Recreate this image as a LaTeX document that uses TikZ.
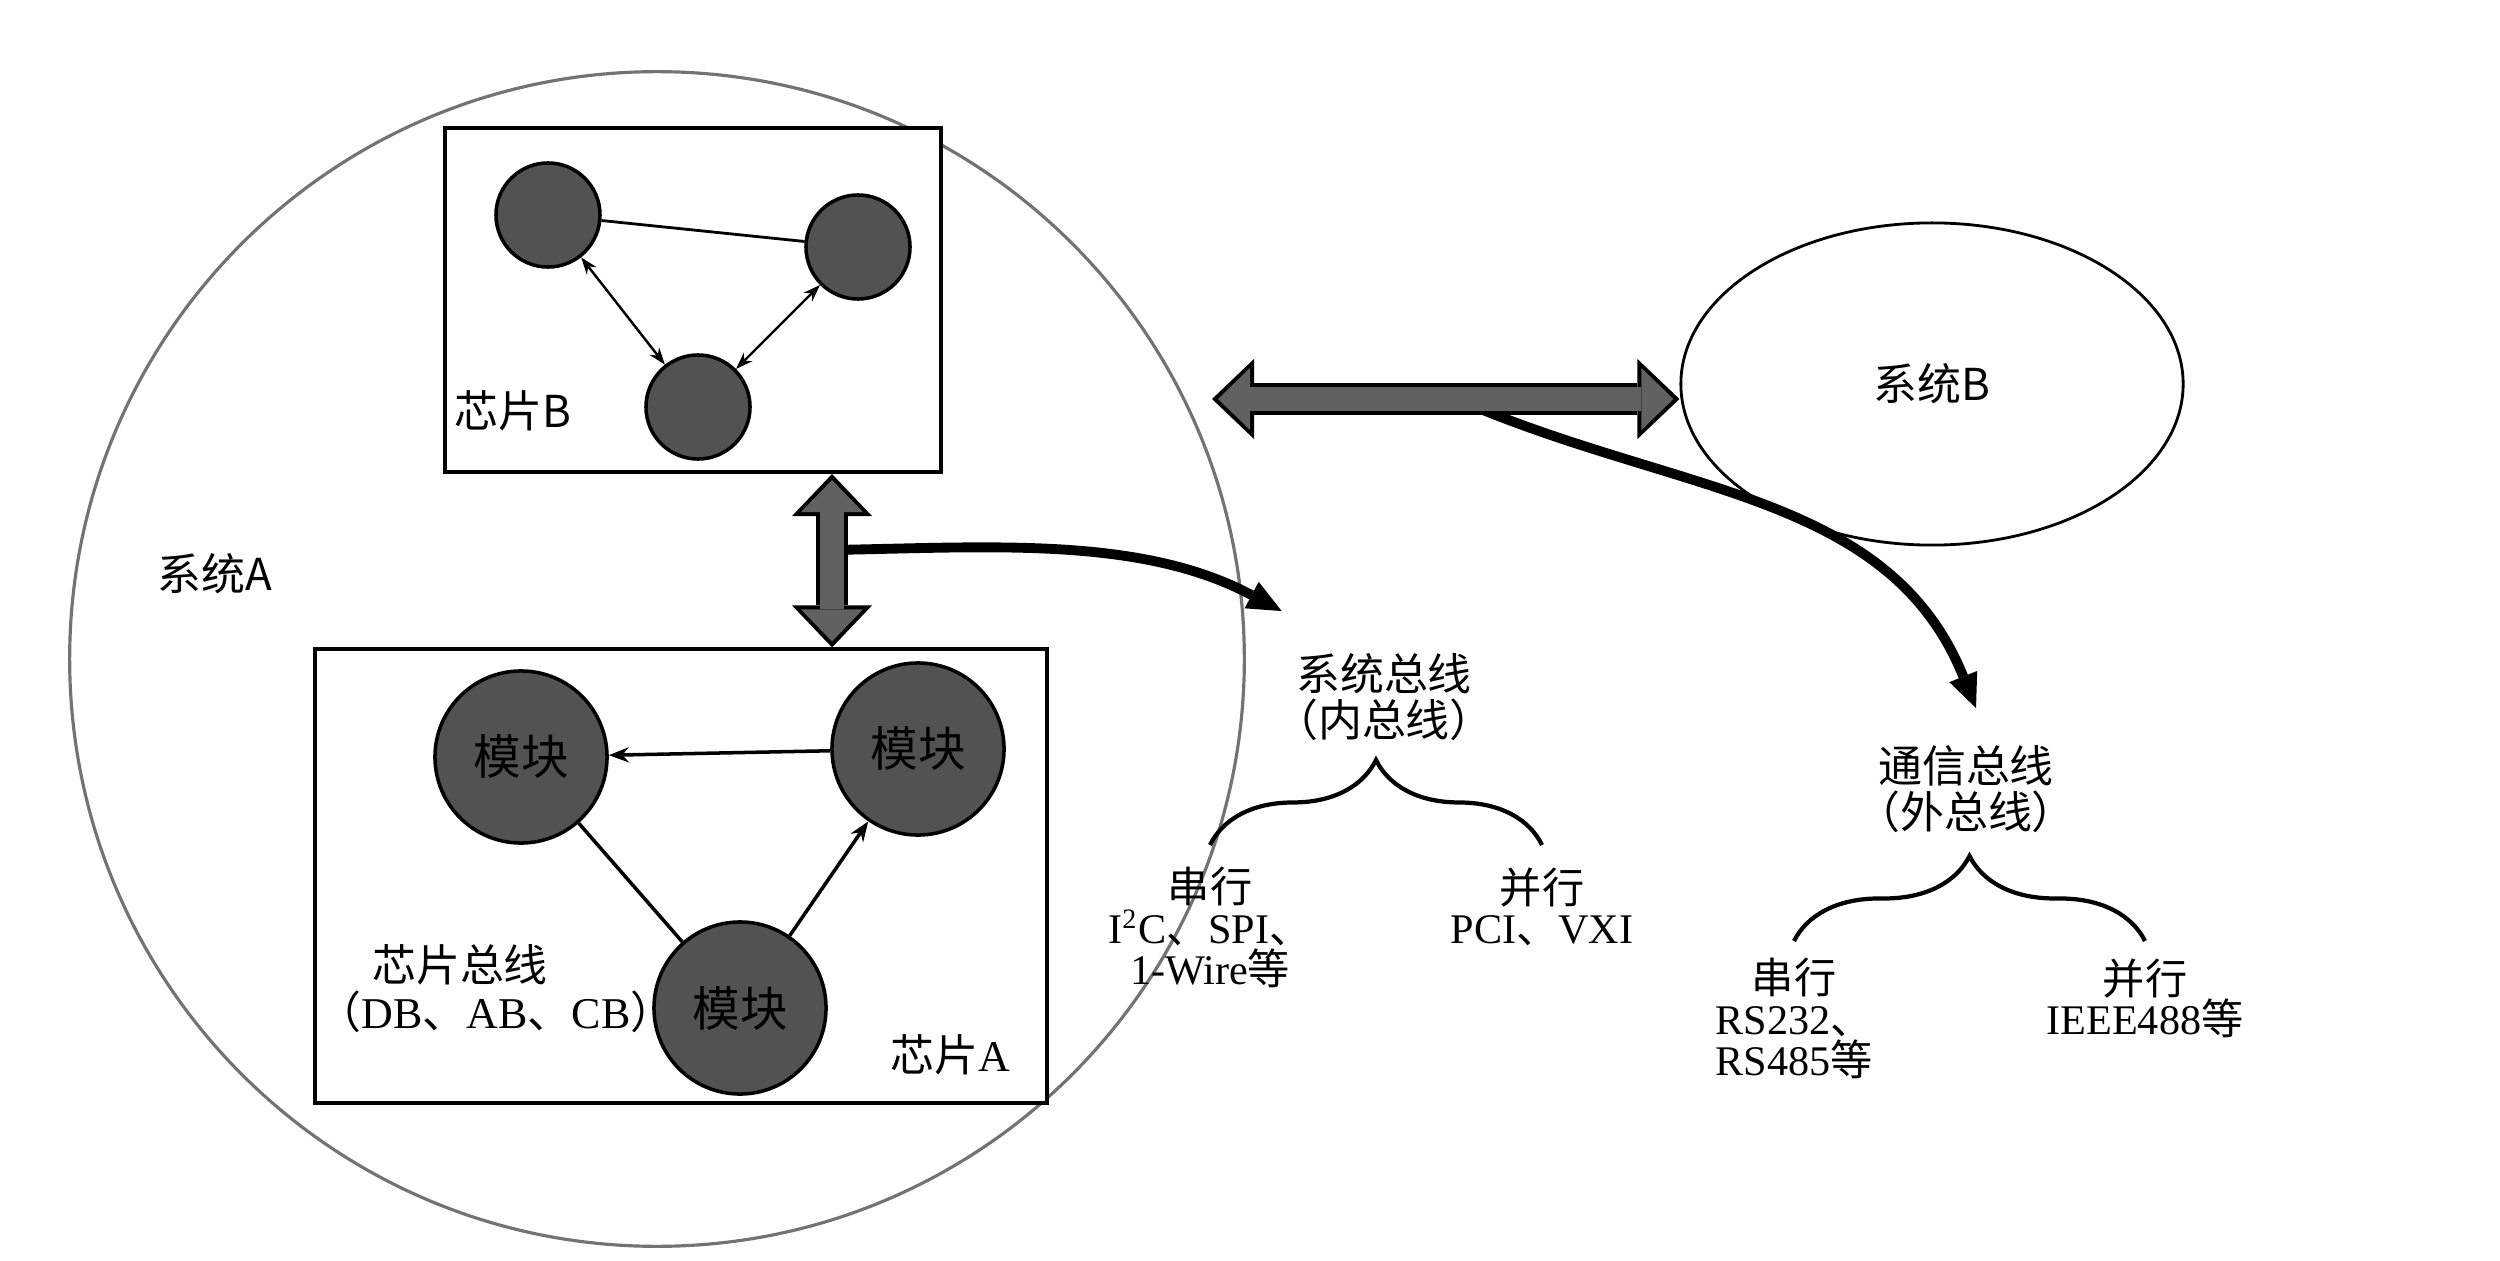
\documentclass[tikz,border=0pt]{standalone}
\usepackage{fontspec}
\setmainfont{Liberation Serif}
\newfontfamily\cjk{Noto Sans CJK SC}
\usepackage{tikz}
\usetikzlibrary{arrows.meta,positioning,calc,shapes.geometric,decorations.pathreplacing}

\begin{document}
\begin{tikzpicture}[x=0.01cm, y=0.01cm, font=\fontsize{12.5}{14}\selectfont,
  chip/.style={draw, fill=white, line width=1.1pt},
  dot/.style={circle, draw, fill=black!68, line width=1pt, minimum size=1.04cm},
  modu/.style={circle, draw, fill=black!68, line width=1pt, minimum size=1.72cm, font=\cjk\fontsize{13.5}{15}\selectfont},
  link/.style={line width=0.7pt, {Stealth[length=0.17cm,width=0.12cm]}-{Stealth[length=0.17cm,width=0.12cm]}},
  flow/.style={line width=1pt, -{Stealth[length=0.2cm,width=0.15cm]}},
  busrim/.style={line width=0.32cm, {Triangle[length=0.42cm,width=0.8cm,line width=0pt]}-{Triangle[length=0.42cm,width=0.8cm,line width=0pt]}},
  buscore/.style={line width=0.24cm, black!62, shorten <=0.06cm, shorten >=0.06cm, {Triangle[length=0.32cm,width=0.62cm,line width=0pt]}-{Triangle[length=0.32cm,width=0.62cm,line width=0pt]}},
  tap/.style={line width=2.8pt, -{Triangle[length=0.34cm,width=0.3cm,line width=0pt]}},
  fork/.style={decorate, decoration={brace, amplitude=0.85cm}, line width=1.2pt},
  hdr/.style={align=center, font={\cjk\fontsize{12.5}{13}\selectfont}},
  list/.style={align=center, anchor=north, font={\fontsize{12}{11.6}\selectfont\lineskiplimit=-20pt}}]
  \useasboundingbox (0,0) rectangle (2500,-1261);

  % system A
  \node (sysA) [circle, draw=black!55, line width=0.9pt, minimum size=11.74cm] at (657,-659) {};
  \node (sysAlab) at (215,-574) {{\cjk 系统A}};

  % chip B
  \node (chipB) [chip, minimum width=4.95cm, minimum height=3.44cm] at (693,-300) {};
  \node (b1) [dot] at (548,-215) {};
  \node (b2) [dot] at (858,-247) {};
  \node (b3) [dot] at (698,-407) {};
  \node (chipBlab) at (513,-411) {{\cjk 芯片B}};
  \draw[line width=0.8pt] (b1) -- (b2);
  \draw[link] (b1) -- (b3);
  \draw[link] (b2) -- (b3);

  % chip A
  \node (chipA) [chip, minimum width=7.31cm, minimum height=4.53cm] at (681,-876) {};
  \node (m1) [modu] at (521,-757) {模块};
  \node (m2) [modu] at (918,-749) {模块};
  \node (m3) [modu] at (740,-1008) {模块};
  \draw[flow] (m2) -- (m1);
  \draw[flow] (m3) -- (m2);
  \draw[line width=1pt] (m1) -- (m3);
  \node (cbus) at (460,-965) {{\cjk 芯片总线}};
  \node (cbusx) [below of=cbus, node distance=0.47cm, xshift=0.36cm] {{\cjk （}DB{\cjk 、}AB{\cjk 、}CB{\cjk ）}};
  \node (chipAlab) at (950,-1055) {{\cjk 芯片}A};

  % system B
  \node (sysB) [ellipse, draw, line width=0.8pt, minimum width=5.02cm, minimum height=3.22cm] at (1932,-384) {{\cjk 系统B}};

  % bus names
  \node (sysbus) [hdr] at (1384,-697) {系统总线\\（内总线）};
  \node (ser1) [list] at (1210,-855) {{\cjk 串行}\\I\textsuperscript{2}C{\cjk 、}SPI{\cjk 、}\\1-Wire{\cjk 等}};
  \node (par1) [list] at (1542,-855) {{\cjk 并行}\\PCI{\cjk 、}VXI};
  \node (comm) [hdr] at (1966,-789) {通信总线\\（外总线）};
  \node (ser2) [list] at (1794,-946) {{\cjk 串行}\\RS232{\cjk 、}\\RS485{\cjk 等}};
  \node (par2) [list] at (2145,-946) {{\cjk 并行}\\IEEE488{\cjk 等}};

  \draw[fork] ([yshift=0.1cm]ser1.north) -- ([yshift=0.1cm]par1.north);
  \draw[fork] ([yshift=0.05cm]ser2.north) -- ([yshift=0.05cm]par2.north);

  % buses
  \coordinate (vbus) at (832,-560);
  \coordinate (vsplit) at (832,-550);
  \coordinate (hleft) at (1212,-399);
  \coordinate (hsplit) at (1483,-410);
  \draw[tap] (vsplit) to[out=1, in=152, looseness=0.9] ([xshift=0.2cm,yshift=0.3cm]sysbus.north west);
  \draw[tap] (hsplit) to[out=-22, in=112] ([xshift=0.1cm,yshift=0.25cm]comm.north);
  \draw[busrim] (vbus |- chipB.south) -- (vbus |- chipA.north);
  \draw[buscore] (vbus |- chipB.south) -- (vbus |- chipA.north);
  \draw[busrim] (hleft) -- (hleft -| sysB.west);
  \draw[buscore] (hleft) -- (hleft -| sysB.west);
\end{tikzpicture}
\end{document}
